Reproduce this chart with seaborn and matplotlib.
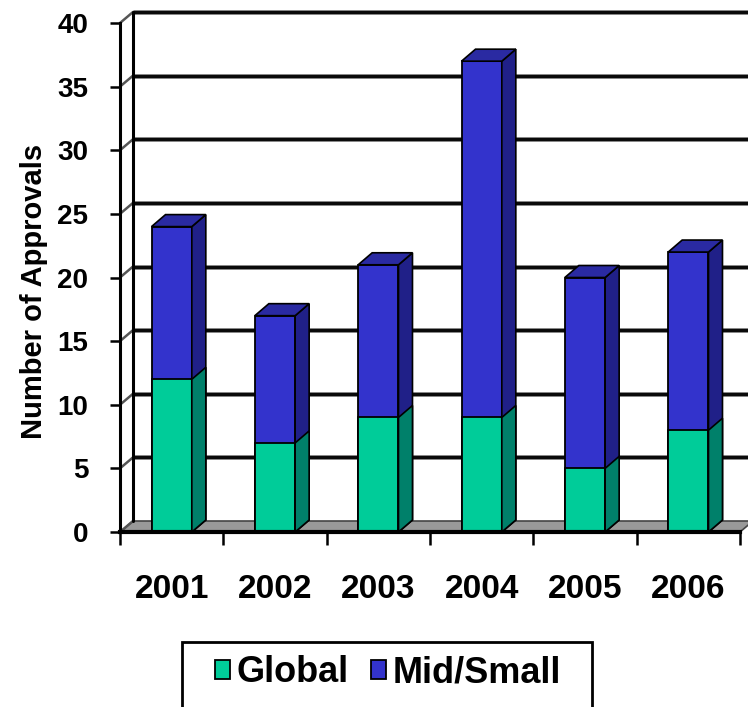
import numpy as np
import pandas as pd
import seaborn as sns
import matplotlib
matplotlib.use("Agg")
import matplotlib.pyplot as plt
from matplotlib.patches import Polygon, Rectangle

# ---- data -------------------------------------------------------------
years = ["2001", "2002", "2003", "2004", "2005", "2006"]
global_approvals = [12, 7, 9, 9, 5, 8]
mid_small_approvals = [12, 10, 12, 28, 15, 14]
y_ticks = [0, 5, 10, 15, 20, 25, 30, 35, 40]

# ---- style ------------------------------------------------------------
GREEN, GREEN_SIDE = "#00CC99", "#00806A"
BLUE, BLUE_SIDE, BLUE_TOP = "#3333CC", "#202088", "#2A2AA2"
FLOOR = "#999999"

sns.set_theme(style="white")
plt.rcParams["font.family"] = ["Liberation Sans", "DejaVu Sans"]
plt.rcParams["font.weight"] = "bold"
for key in ("text.color", "axes.labelcolor", "xtick.color", "ytick.color"):
    plt.rcParams[key] = "black"

W, H = 748, 707
fig = plt.figure(figsize=(W / 100, H / 100), dpi=100)
fig.patch.set_facecolor("white")
# plot area: front x-axis from px 120..740, front y 0 at px 532 and 40 at px 23
ax = fig.add_axes([120 / W, (H - 532) / H, 620 / W, (532 - 23) / H])
ax.set_facecolor("none")

df = pd.DataFrame({"year": years, "Global": global_approvals,
                   "Mid/Small": mid_small_approvals})
df["total"] = df["Global"] + df["Mid/Small"]

BAR_W = 0.39
sns.barplot(data=df, x="year", y="total", color=BLUE, saturation=1,
            width=BAR_W, edgecolor="black", linewidth=1.3, label="Mid/Small",
            ax=ax, zorder=3)
sns.barplot(data=df, x="year", y="Global", color=GREEN, saturation=1,
            width=BAR_W, edgecolor="black", linewidth=1.3, label="Global",
            ax=ax, zorder=3)
handles, labels = ax.get_legend_handles_labels()
if ax.get_legend() is not None:
    ax.get_legend().remove()

ax.set_xlim(-0.5, 5.5)
ax.set_ylim(0, 40)

# depth offsets (data units) for the pseudo-3D look
px_x = 620 / 6.0
px_y = (532 - 23) / 40.0
BDX, BDY = 14 / px_x, 12 / px_y     # bar depth
WDX, WDY = 13 / px_x, 11 / px_y     # wall / floor depth

n = len(years)
blue_bars = ax.patches[:n]
green_bars = ax.patches[n:2 * n]

# side and top faces of every bar
for bb, gb in zip(blue_bars, green_bars):
    x0, w = bb.get_x(), bb.get_width()
    top = bb.get_height()
    g = gb.get_height()
    xr = x0 + w
    ax.add_patch(Polygon([(xr, 0), (xr + BDX, BDY), (xr + BDX, top + BDY), (xr, top)],
                         closed=True, facecolor=BLUE_SIDE, edgecolor="black",
                         lw=1.2, zorder=3.2, clip_on=False))
    ax.add_patch(Polygon([(xr, 0), (xr + BDX, BDY), (xr + BDX, g + BDY), (xr, g)],
                         closed=True, facecolor=GREEN_SIDE, edgecolor="black",
                         lw=1.2, zorder=3.3, clip_on=False))
    ax.add_patch(Polygon([(x0, top), (x0 + BDX, top + BDY), (xr + BDX, top + BDY), (xr, top)],
                         closed=True, facecolor=BLUE_TOP, edgecolor="black",
                         lw=1.2, zorder=3.3, clip_on=False))

# floor
ax.add_patch(Polygon([(-0.5, 0), (5.5, 0), (5.5 + WDX, WDY), (-0.5 + WDX, WDY)],
                     closed=True, facecolor=FLOOR, edgecolor="#444444", lw=1.2,
                     zorder=1, clip_on=False))

# back-wall gridlines and left-wall connectors
for v in y_ticks[1:]:
    ax.plot([-0.5 + WDX, 6.5], [v + WDY, v + WDY], color="#8c8c8c", lw=3.6,
            zorder=1.4, clip_on=False, solid_capstyle="butt")
    ax.plot([-0.5 + WDX, 6.5], [v + WDY, v + WDY], color="#0a0a0a", lw=2.2,
            zorder=1.5, clip_on=False, solid_capstyle="butt")
for v in y_ticks:
    ax.plot([-0.5, -0.5 + WDX], [v, v + WDY], color="#555555", lw=1.8,
            zorder=1.6, clip_on=False)
ax.plot([-0.5 + WDX, -0.5 + WDX], [WDY, 40 + WDY], color="black", lw=2.2,
        zorder=1.6, clip_on=False)

# spines
for side in ("top", "right"):
    ax.spines[side].set_visible(False)
ax.spines["left"].set_linewidth(2.2)
ax.spines["left"].set_color("black")
ax.spines["bottom"].set_linewidth(3.0)
ax.spines["bottom"].set_color("black")
ax.spines["left"].set_zorder(4)
ax.spines["bottom"].set_zorder(4)

# y axis
ax.set_yticks(y_ticks)
ax.set_yticklabels([str(t) for t in y_ticks])
ax.tick_params(axis="y", which="major", left=True, length=7.2, width=1.8,
               color="black", pad=15.5, labelsize=20, labelcolor="black")
for lbl in ax.get_yticklabels():
    lbl.set_fontweight("bold")

# x axis: tick marks at category boundaries, labels at category centres
ax.set_xticks(np.arange(-0.5, 6.0, 1.0))
ax.set_xticklabels([])
ax.tick_params(axis="x", which="major", bottom=True, length=9.5, width=1.8,
               color="black")
ax.set_xticks(range(n), labels=years, minor=True)
ax.tick_params(axis="x", which="minor", bottom=True, length=0, pad=30.5,
               labelsize=24, labelcolor="black")
for lbl in ax.get_xticklabels(minor=True):
    lbl.set_fontweight("bold")
ax.set_xlabel("")

ax.set_ylabel("Number of Approvals", fontsize=21, fontweight="bold",
              ha="center", va="center", color="black")
ax.yaxis.set_label_coords((34 - 120) / 620, (532 - 291) / (532 - 23))

# legend
order = [labels.index("Global"), labels.index("Mid/Small")]
fig.legend([handles[i] for i in order], [labels[i] for i in order],
           loc="center", bbox_to_anchor=(388 / W, 1 - 673 / H), ncol=2,
           frameon=False, handlelength=0.42, handleheight=0.42,
           handletextpad=0.2, columnspacing=0.6, labelcolor="black",
           prop=dict(family=["Liberation Sans", "DejaVu Sans"],
                     weight="bold", size=26))
fig.patches.append(Rectangle((182 / W, (H - 722) / H), 410 / W, 80 / H,
                             transform=fig.transFigure, fill=False,
                             edgecolor="black", lw=2.0, clip_on=False))

fig.savefig("out.png", dpi=100)
